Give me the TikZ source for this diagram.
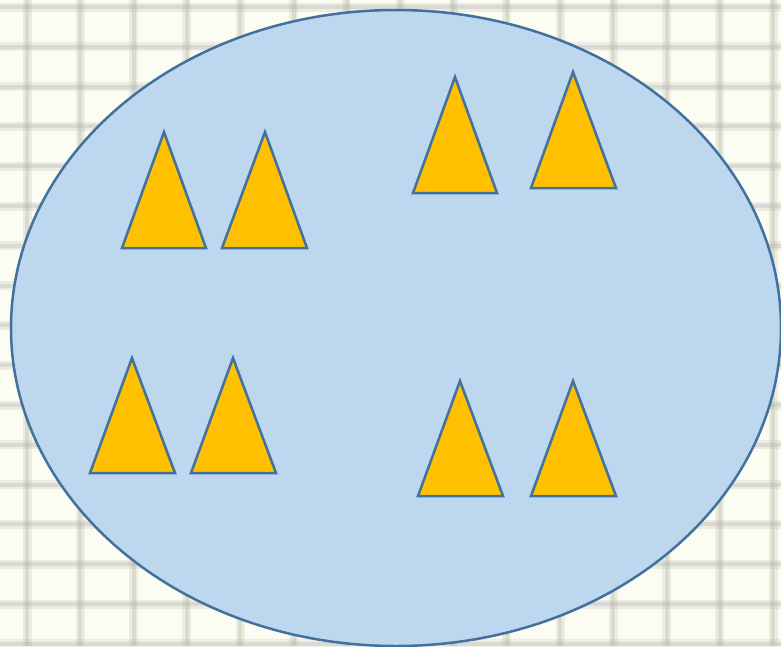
\documentclass[tikz,border=0pt]{standalone}
\usetikzlibrary{shapes.geometric}
\begin{document}
\begin{tikzpicture}[x=1pt,y=-1pt,
  tri/.style={draw=edgeblue,fill=goldfill,line width=2.5pt,line join=miter},
  vline/.style={draw=vgrid,line width=9pt,opacity=0.18},
  vcore/.style={draw=vgrid,line width=4pt,opacity=0.25},
  hline/.style={draw=hgrid,line width=9pt,opacity=0.18},
  hcore/.style={draw=hgrid,line width=4pt,opacity=0.25}]
\definecolor{edgeblue}{HTML}{41719C}
\definecolor{goldfill}{HTML}{FFC000}
\definecolor{ellfill}{HTML}{BDD7EE}
\definecolor{paper}{HTML}{FBFCF2}
\definecolor{vgrid}{HTML}{A8AD90}
\definecolor{hgrid}{HTML}{A8A8A8}
\useasboundingbox (0,0) rectangle (781,646);
\fill[paper] (0,0) rectangle (781,646);
% plaid background
\foreach \i in {0,...,14} {
  \pgfmathsetmacro{\xx}{27+53.3*\i}
  \draw[vline] (\xx,0) -- (\xx,646);
  \draw[vcore] (\xx,0) -- (\xx,646);
}
\foreach \j in {0,...,16} {
  \pgfmathsetmacro{\yy}{7+39.8*\j}
  \draw[hline] (0,\yy) -- (781,\yy);
  \draw[hcore] (0,\yy) -- (781,\yy);
}
% ellipse
\node[draw=edgeblue,fill=ellfill,line width=2.5pt,ellipse,inner sep=0pt,
  minimum width=770pt,minimum height=636pt] (set) at (396,328) {};
% triangles
\draw[tri] (164,132) coordinate (t1) -- (206,248) -- (122,248) -- cycle;
\draw[tri] (265,132) coordinate (t2) -- (307,248) -- (222,248) -- cycle;
\draw[tri] (455,77) coordinate (t3) -- (497,193) -- (413,193) -- cycle;
\draw[tri] (573,72) coordinate (t4) -- (616,188) -- (531,188) -- cycle;
\draw[tri] (132,358) coordinate (t5) -- (175,473) -- (90,473) -- cycle;
\draw[tri] (233,358) coordinate (t6) -- (276,473) -- (191,473) -- cycle;
\draw[tri] (460,381) coordinate (t7) -- (503,496) -- (418,496) -- cycle;
\draw[tri] (573,381) coordinate (t8) -- (616,496) -- (531,496) -- cycle;
\end{tikzpicture}
\end{document}
